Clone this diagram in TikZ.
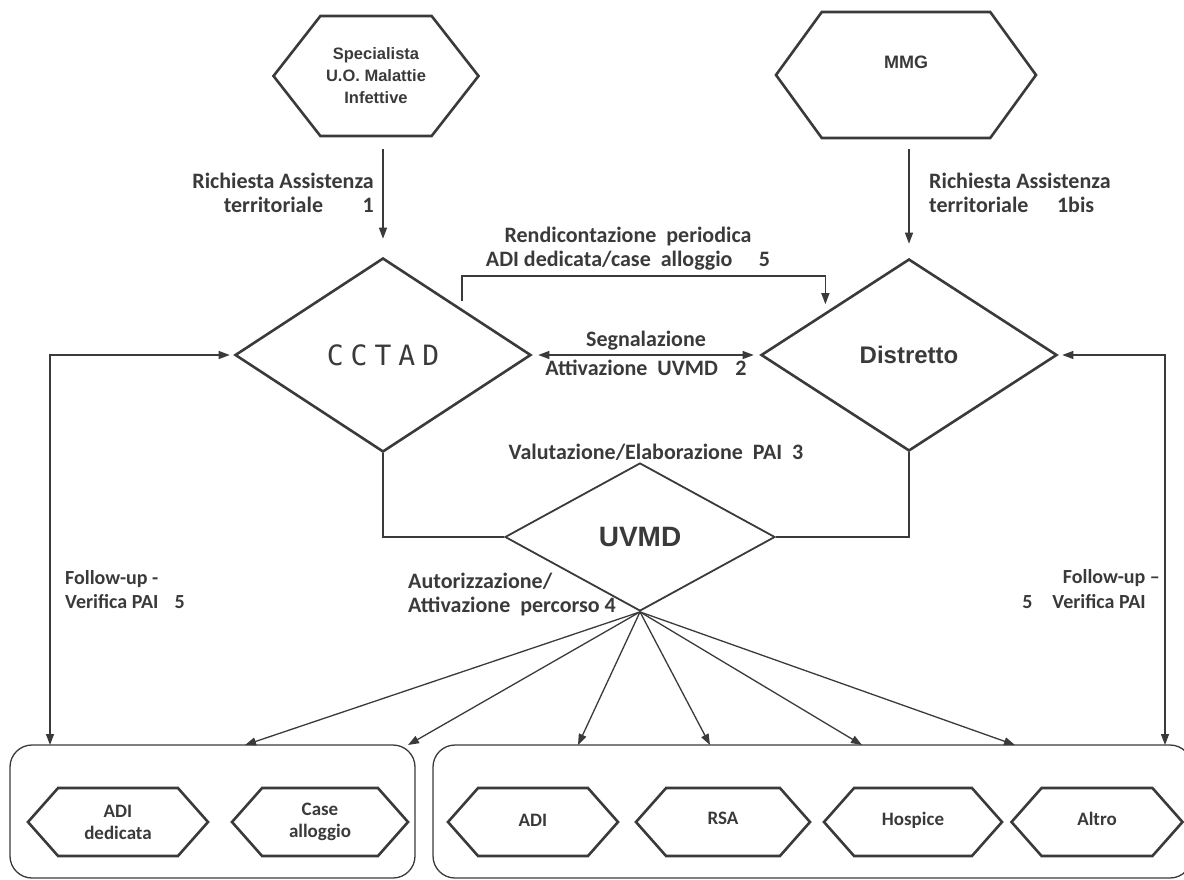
\documentclass[tikz,border=0pt]{standalone}
\usepackage{fontspec}
\setmainfont{Carlito}
\newfontfamily\arialfont{Liberation Sans}
\newfontfamily\consfont{DejaVu Sans Mono}[LetterSpace=25]
\usetikzlibrary{shapes.geometric, shapes.symbols, arrows.meta, calc}

\definecolor{ink}{HTML}{3A3A3A}

\tikzset{
  hexbox/.style={shape=signal, signal to=east and west, draw=ink, line width=2.6pt,
    align=center, text=ink, inner sep=0pt},
  subhex/.style={hexbox, minimum width=176pt, minimum height=68pt, signal pointer angle=97,
    font=\bfseries\fontsize{19}{22}\selectfont},
  decision/.style={shape=diamond, draw=ink, line width=2.6pt, text=ink, inner sep=0pt},
  group/.style={draw=ink, line width=1.3pt, rounded corners=22pt},
  lbl/.style={text=ink, font=\bfseries\fontsize{22}{24}\selectfont, align=left, inner sep=0pt},
  link/.style={draw=ink, line width=1.3pt},
  arr/.style={link, -{Triangle[length=11pt,width=8pt]}},
  arrs/.style={link, {Triangle[length=11pt,width=8pt]}-{Triangle[length=11pt,width=8pt]}},
}

\begin{document}
\begin{tikzpicture}[x=1pt,y=-1pt]
  \useasboundingbox (0,0) rectangle (1184,880);

  % who asks
  \node[hexbox, minimum width=205pt, minimum height=120pt, signal pointer angle=104,
    font=\arialfont\bfseries\fontsize{16.5}{22}\selectfont] (spec) at (376,76)
    {Specialista\\U.O. Malattie\\Infettive};
  \node[hexbox, minimum width=260pt, minimum height=126pt, signal pointer angle=108,
    font=\arialfont\bfseries\fontsize{18}{26}\selectfont] (mmg) at (906,75) {MMG\\~};

  % the three decisions
  \node[decision, minimum width=296pt, minimum height=194pt,
    font=\consfont\fontsize{28}{32}\selectfont] (cctad) at (383,355) {CCTAD};
  \node[decision, minimum width=296pt, minimum height=192pt,
    font=\arialfont\bfseries\fontsize{24}{28}\selectfont] (dist) at (909,355) {Distretto};
  \node[decision, line width=1.8pt, minimum width=270pt, minimum height=148pt,
    font=\arialfont\bfseries\fontsize{28}{32}\selectfont] (uvmd) at (640,537) {UVMD};

  % the two groups of services
  \node[group, minimum width=405pt, minimum height=133pt] (lbox) at (212.5,811.5) {};
  \node[group, minimum width=759pt, minimum height=133pt] (rbox) at (812.5,811.5) {};

  \node[subhex, minimum width=180pt] (adided) at (118,822) {ADI\\dedicata};
  \node[subhex] (case) at (320,822) {Case\\alloggio};
  \node[subhex, minimum width=170pt] (adi) at (533,822) {\raisebox{4pt}{ADI}};
  \node[subhex, minimum width=174pt] (rsa) at (723,822) {\raisebox{7pt}{RSA}};
  \node[subhex, minimum width=178pt] (hosp) at (913,822) {\raisebox{7pt}{Hospice}};
  \node[subhex, minimum width=171pt] (altro) at (1097,822) {\raisebox{7pt}{Altro}};

  % requests
  \draw[arr, shorten <=12pt, shorten >=18pt] (cctad.north |- spec.south) -- (cctad.north);
  \draw[arr, shorten <=10pt, shorten >=14pt] (dist.north |- mmg.south) -- (dist.north);
  \node[lbl, anchor=east, align=right] (req1) at (374,193)
    {Richiesta Assistenza\\territoriale\hspace{1.8em}1};
  \node[lbl, anchor=west] (req2) at (929,193)
    {Richiesta Assistenza\\territoriale\hspace{1.3em}1bis};

  % periodic report
  \coordinate (rA) at ($(cctad.north)!0.53!(cctad.east)$);
  \coordinate (rB) at ($(dist.west)!0.44!(dist.north)$);
  \coordinate (rtop) at (0,276);
  \draw[arr, shorten <=8pt, shorten >=8pt] (rA) -- (rA |- rtop) -| (rB);
  \node[lbl, align=center] (rend) at (628,249)
    {Rendicontazione\ \ periodica\\ADI dedicata/case\ \ alloggio\hspace{1.2em}5};

  \draw[arrs, shorten <=6pt, shorten >=6pt] (cctad.east) -- (dist.west)
    node[midway, above=4pt, lbl] (segn) {Segnalazione}
    node[midway, below=4pt, lbl] (attiv) {Attivazione\ \ UVMD\hspace{0.8em}2};

  % to the UVMD
  \draw[link] (cctad.south) |- (uvmd.west);
  \draw[link] (dist.south) |- (uvmd.east);
  \node[lbl] (val) at (656,452) {Valutazione/Elaborazione\ \ PAI\ \ 3};
  \node[lbl, anchor=west] (aut) at (408,595) {Autorizzazione/\\Attivazione\ \ percorso\ 4};

  \foreach \tx [count=\i] in {245,408,578,710,862,1015}{
    \coordinate (t\i) at (\tx,745);
    \draw[arr] (uvmd.south) -- (t\i);
  }

  % follow-up
  \coordinate (fl) at (50,745);
  \coordinate (fr) at (1165,745);
  \draw[arrs, shorten <=4pt] (cctad.west) -| (fl);
  \draw[arrs, shorten <=4pt] (dist.east) -| (fr);
  \node[lbl, font=\bfseries\fontsize{20}{24}\selectfont, anchor=west] (fu1) at (65,590)
    {Follow-up -\\Verifica PAI\hspace{0.8em}5};
  \node[lbl, font=\bfseries\fontsize{20}{24}\selectfont, anchor=east] (fu2a) at (1160,578)
    {Follow-up –};
  \node[lbl, font=\bfseries\fontsize{20}{24}\selectfont, anchor=east] (fu2b) at (1146,602)
    {5\hspace{1em}Verifica PAI};

\end{tikzpicture}
\end{document}
